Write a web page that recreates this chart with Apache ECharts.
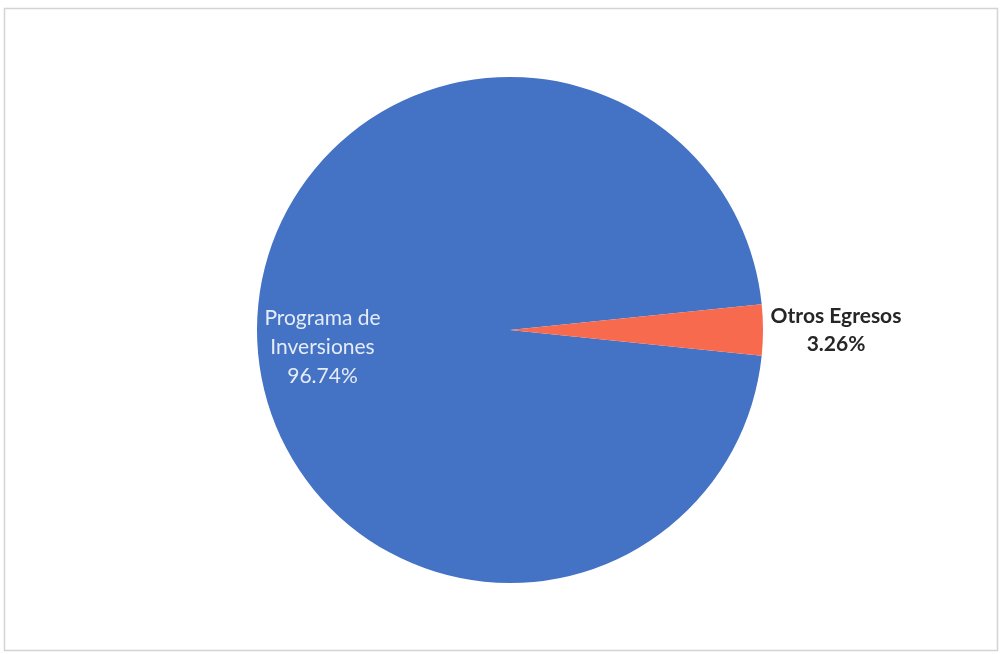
<!DOCTYPE html>
<html>
<head>
<meta charset="utf-8">
<style>
  html, body { margin: 0; padding: 0; background: #ffffff; }
  #chart { width: 1000px; height: 654px; }
</style>
<script src="https://cdn.jsdelivr.net/npm/echarts@6/dist/echarts.min.js"></script>
</head>
<body>
<div id="chart"></div>
<script>
// Distribución de egresos (porcentajes)
const categories = ['Programa de\nInversiones', 'Otros Egresos'];
const values = [96.74, 3.26];
const colors = ['#4472C4', '#F76A4E'];

const total = values.reduce((a, b) => a + b, 0);
// Centre the small slice on the horizontal axis to the right
const startAngle = -(values[1] / total * 360) / 2;

const chart = echarts.init(document.getElementById('chart'));

chart.setOption({
  animation: false,
  backgroundColor: '#ffffff',
  graphic: [{
    type: 'rect',
    shape: { x: 4.5, y: 8.5, width: 993, height: 642 },
    style: { fill: 'none', stroke: '#d4d4d4', lineWidth: 1.5 },
    silent: true
  }],
  series: [{
    type: 'pie',
    center: [510, 330],
    radius: 253,
    startAngle: startAngle,
    clockwise: true,
    avoidLabelOverlap: false,
    itemStyle: { borderWidth: 0 },
    data: categories.map((name, i) => ({
      name: name,
      value: values[i],
      itemStyle: { color: colors[i] },
      label: i === 0 ? {
        position: 'inside',
        color: '#E6ECF7',
        fontFamily: 'Lato',
        fontSize: 21,
        lineHeight: 29,
        fontWeight: 'normal',
        formatter: p => p.name + '\n' + p.value.toFixed(2) + '%'
      } : {
        position: 'outside',
        distanceToLabelLine: 5,
        formatter: p => '{t|' + p.name + '}\n{t|' + p.value.toFixed(2) + '%}',
        rich: {
          t: {
            width: 136,
            align: 'center',
            color: '#262626',
            fontFamily: 'Lato',
            fontSize: 21,
            lineHeight: 28,
            fontWeight: 'bold'
          }
        }
      },
      labelLine: { show: false, length: 0, length2: 0 }
    })),
    labelLayout: function (params) {
      if (params.dataIndex === 0) {
        return { dx: -58, dy: 17 };
      }
      return {};
    }
  }]
});
</script>
</body>
</html>
